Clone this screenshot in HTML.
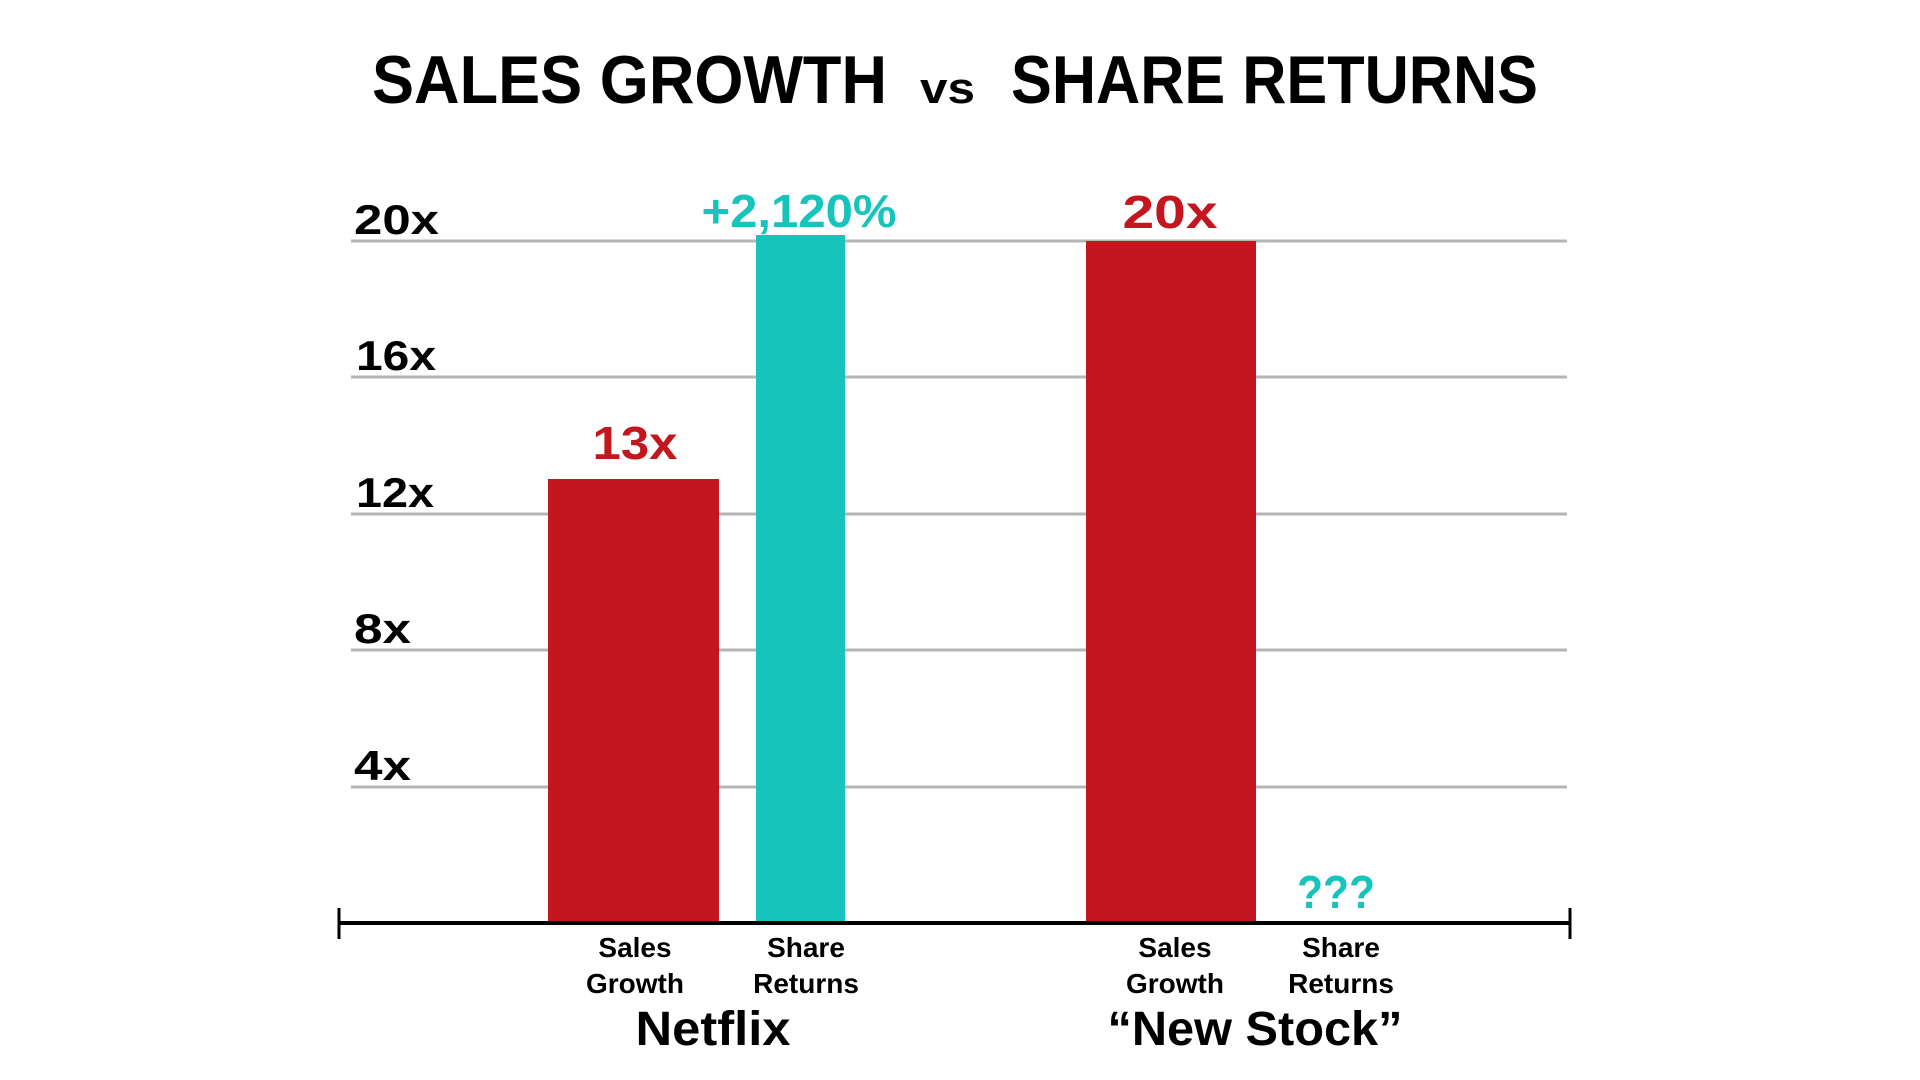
<!DOCTYPE html>
<html><head><meta charset="utf-8"><style>
html,body{margin:0;padding:0;background:#fff;width:1920px;height:1080px;overflow:hidden}
svg text{font-family:"Liberation Sans",sans-serif;font-weight:bold}
</style></head><body>
<svg width="1920" height="1080" viewBox="0 0 1920 1080" xmlns="http://www.w3.org/2000/svg">
<g transform="translate(-3,-3)">
<text x="375" y="106" font-size="68" fill="#000" textLength="515" lengthAdjust="spacingAndGlyphs">SALES GROWTH</text>
<text x="923" y="106" font-size="44" fill="#000" textLength="55" lengthAdjust="spacingAndGlyphs">vs</text>
<text x="1014" y="106" font-size="68" fill="#000" textLength="527" lengthAdjust="spacingAndGlyphs">SHARE RETURNS</text>
<g stroke="#b5b5b5" stroke-width="3">
<line x1="354" y1="244" x2="1570" y2="244"/>
<line x1="354" y1="380" x2="1570" y2="380"/>
<line x1="354" y1="517" x2="1570" y2="517"/>
<line x1="354" y1="653" x2="1570" y2="653"/>
<line x1="354" y1="790" x2="1570" y2="790"/>
</g>
<g font-size="42" fill="#000">
<text x="357" y="237" textLength="85" lengthAdjust="spacingAndGlyphs">20x</text>
<text x="359" y="373" textLength="80" lengthAdjust="spacingAndGlyphs">16x</text>
<text x="359" y="510" textLength="78" lengthAdjust="spacingAndGlyphs">12x</text>
<text x="357" y="646" textLength="57" lengthAdjust="spacingAndGlyphs">8x</text>
<text x="357" y="783" textLength="57" lengthAdjust="spacingAndGlyphs">4x</text>
</g>
<rect x="551" y="482" width="171" height="444" fill="#c3161e"/>
<rect x="759" y="238" width="89" height="688" fill="#17c4bc"/>
<rect x="1089" y="244" width="170" height="682" fill="#c3161e"/>
<text x="638" y="462" font-size="46" fill="#c3161e" text-anchor="middle" textLength="85" lengthAdjust="spacingAndGlyphs">13x</text>
<text x="802" y="230" font-size="46" fill="#17c4bc" text-anchor="middle" textLength="195" lengthAdjust="spacingAndGlyphs">+2,120%</text>
<text x="1173" y="231" font-size="46" fill="#c3161e" text-anchor="middle" textLength="95" lengthAdjust="spacingAndGlyphs">20x</text>
<text x="1339" y="911" font-size="46" fill="#17c4bc" text-anchor="middle" textLength="78" lengthAdjust="spacingAndGlyphs">???</text>
<line x1="341" y1="926" x2="1574" y2="926" stroke="#000" stroke-width="4"/>
<line x1="342" y1="911" x2="342" y2="942" stroke="#000" stroke-width="3"/>
<line x1="1573" y1="911" x2="1573" y2="942" stroke="#000" stroke-width="3"/>
<g font-size="28" fill="#000" text-anchor="middle">
<text x="638" y="960">Sales</text><text x="638" y="996">Growth</text>
<text x="809" y="960">Share</text><text x="809" y="996">Returns</text>
<text x="1178" y="960">Sales</text><text x="1178" y="996">Growth</text>
<text x="1344" y="960">Share</text><text x="1344" y="996">Returns</text>
</g>
<text x="716" y="1048" font-size="48" fill="#000" text-anchor="middle" textLength="155" lengthAdjust="spacingAndGlyphs">Netflix</text>
<text x="1258" y="1048" font-size="48" fill="#000" text-anchor="middle" textLength="295" lengthAdjust="spacingAndGlyphs">“New Stock”</text>
</g>
</svg>
</body></html>
